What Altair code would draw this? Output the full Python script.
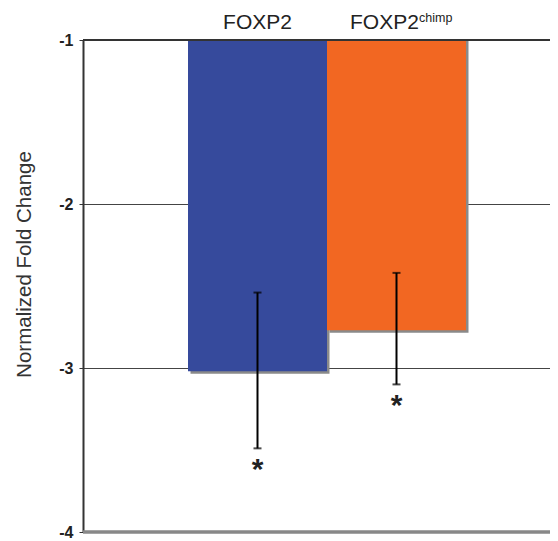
import altair as alt
import pandas as pd

# ---- data ----
categories = ["FOXP2", "FOXP2chimp"]
means = [-3.02, -2.77]
err_upper = [-2.54, -2.42]
err_lower = [-3.49, -3.10]
bar_colors = ["#364a9c", "#f26722"]
sig_marks = ["*", "*"]
header_main = ["FOXP2", "FOXP2"]
header_sup = ["", "chimp"]
y_ticks = [-1, -2, -3, -4]
y_min, y_max = -4, -1

df = pd.DataFrame({
    "category": categories,
    "mean": means,
    "hi": err_upper,
    "lo": err_lower,
    "color": bar_colors,
    "sig": sig_marks,
    "main": header_main,
    "sup": header_sup,
})

FONT = "Liberation Sans"

PLOT_W = 467
x = alt.X("category:N", sort=categories,
          scale=alt.Scale(domain=categories, paddingInner=0,
                          paddingOuter=(PLOT_W / 139 - 2) / 2, align=105 / (PLOT_W - 278)),
          axis=None)
yscale = alt.Scale(domain=[y_min, y_max], nice=False, zero=False)

base = alt.Chart(df).encode(x=x)

shadow = base.mark_bar(color="#8a8a8a", xOffset=2.5, yOffset=2.5).encode(
    y=alt.Y("mean:Q", scale=yscale,
            axis=alt.Axis(values=y_ticks, labelExpr="'' + datum.value",
                          grid=True, gridColor="#444", gridWidth=1,
                          domain=True, domainColor="#333", domainWidth=2,
                          ticks=True, tickColor="#333", tickSize=4, tickWidth=1,
                          labelFont=FONT, labelFontSize=16, labelFontWeight="bold",
                          labelColor="#222", labelPadding=6,
                          title="Normalized Fold Change", titleFont=FONT,
                          titleFontSize=20.5, titleFontWeight="normal", titleColor="#333",
                          titleAngle=270, titleAlign="center", titleBaseline="middle",
                          titleX=-59, titleY=224)),
    y2=alt.datum(y_max),
)

bars = base.mark_bar().encode(
    y=alt.Y("mean:Q", scale=yscale),
    y2=alt.datum(y_max),
    color=alt.Color("color:N", scale=None),
)

err_rule = base.mark_rule(color="black", strokeWidth=2).encode(
    y=alt.Y("lo:Q", scale=yscale), y2="hi:Q")
cap_lo = base.mark_tick(color="black", size=8, thickness=2, orient="horizontal").encode(
    y=alt.Y("lo:Q", scale=yscale))
cap_hi = base.mark_tick(color="black", size=8, thickness=2, orient="horizontal").encode(
    y=alt.Y("hi:Q", scale=yscale))

stars = base.mark_text(font=FONT, fontSize=30, fontWeight="bold", color="#222",
                       baseline="alphabetic", dy=31).encode(
    y=alt.Y("lo:Q", scale=yscale), text="sig:N")

top_line = alt.Chart(df).mark_rule(color="#333", strokeWidth=2).encode(y=alt.datum(y_max))
bottom_line = alt.Chart(df).mark_rule(color="#888", strokeWidth=3).encode(y=alt.datum(y_min))

head_first = base.transform_filter(alt.datum.category == categories[0]).mark_text(
    font=FONT, fontSize=21, color="#222", align="center", baseline="alphabetic", dy=-11
).encode(y=alt.datum(y_max), text="main:N")
head_second = base.transform_filter(alt.datum.category == categories[1]).mark_text(
    font=FONT, fontSize=21, color="#222", align="left", baseline="alphabetic", dx=-46.5, dy=-11
).encode(y=alt.datum(y_max), text="main:N")
head_sup = base.transform_filter(alt.datum.category == categories[1]).mark_text(
    font=FONT, fontSize=12.5, color="#222", align="left", baseline="alphabetic", dx=22.5, dy=-18
).encode(y=alt.datum(y_max), text="sup:N")

chart = alt.layer(
    shadow, bars, err_rule, cap_lo, cap_hi, stars, top_line, bottom_line,
    head_first, head_second, head_sup,
).properties(
    width=PLOT_W, height=492,
    autosize=alt.AutoSizeParams(type="none"),
    padding={"left": 75, "top": 32, "right": 0, "bottom": 7},
    background="white",
).configure_view(stroke=None)

chart.save("out.html", embed_options={"renderer": "svg", "actions": False})
